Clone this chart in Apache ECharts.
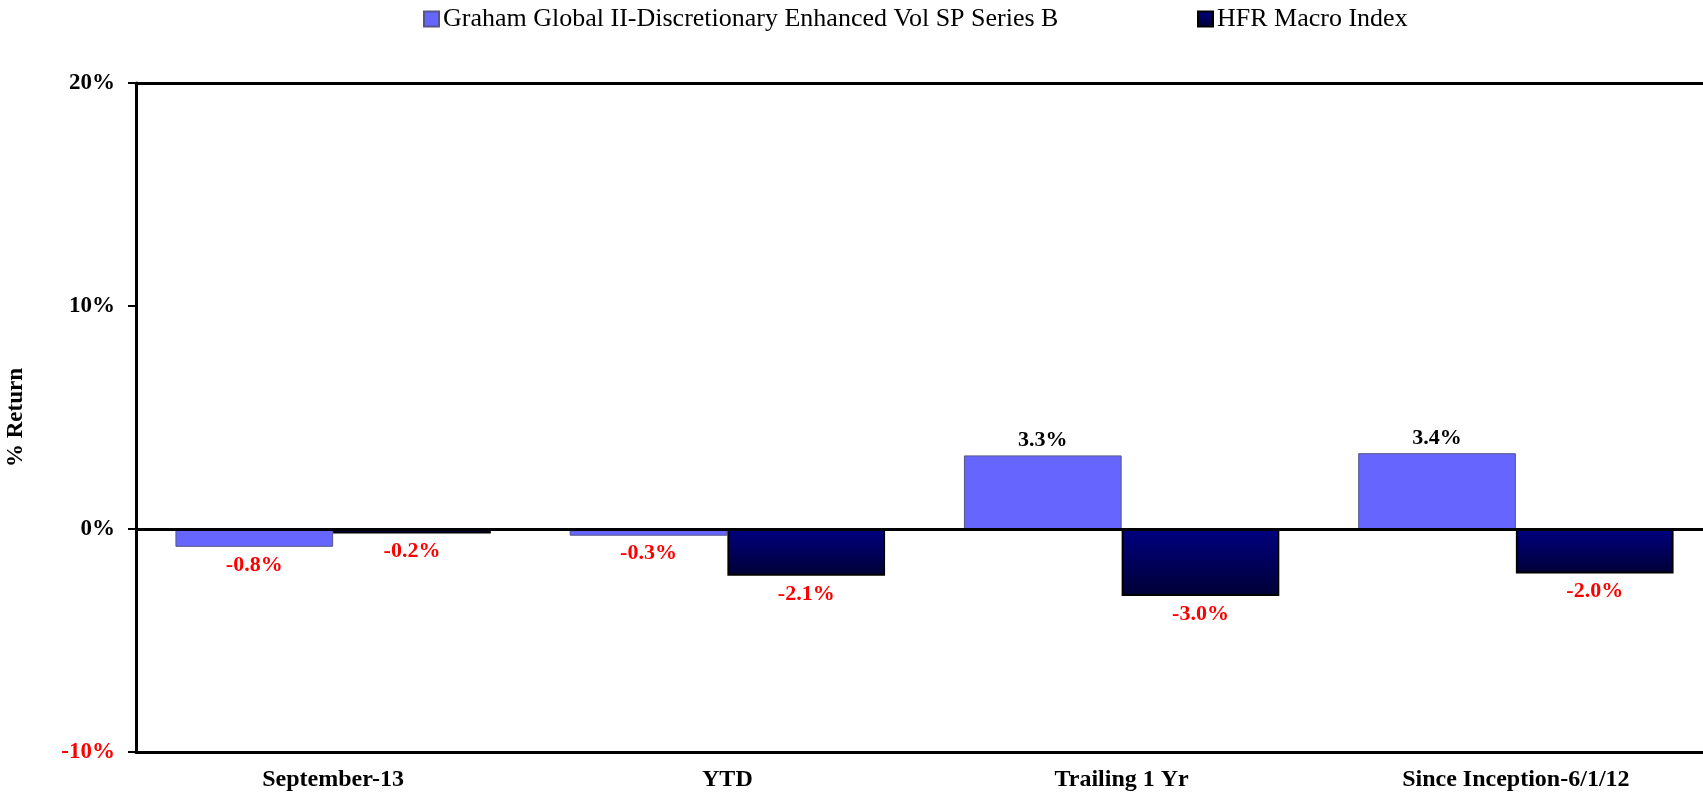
<!DOCTYPE html>
<html>
<head>
<meta charset="utf-8">
<script src="https://cdn.jsdelivr.net/npm/echarts@6/dist/echarts.min.js"></script>
<style>
html,body{margin:0;padding:0;background:#fff;}
#chart{width:1703px;height:793px;}
</style>
</head>
<body>
<div id="chart"></div>
<script>
const categories = ['September-13', 'YTD', 'Trailing 1 Yr', 'Since Inception-6/1/12'];
const seriesNames = ['Graham Global II-Discretionary Enhanced Vol SP Series B', 'HFR Macro Index'];
const grahamValues = [-0.8, -0.3, 3.3, 3.4];
const hfrValues = [-0.2, -2.1, -3.0, -2.0];
const yMin = -10, yMax = 20, yInterval = 10;

const FONT = '"Liberation Serif", "Times New Roman", serif';

function labelled(values) {
  return values.map(v => ({
    value: v,
    label: {
      position: v < 0 ? 'bottom' : 'top',
      distance: v < 0 ? 7 : 4,
      color: v < 0 ? '#ff0000' : '#000000'
    }
  }));
}

const chart = echarts.init(document.getElementById('chart'), null, {renderer: 'canvas'});
const option = {
  animation: false,
  backgroundColor: '#ffffff',
  textStyle: {fontFamily: FONT},
  legend: [
    {
      data: [seriesNames[0]],
      left: 423, top: 6, padding: 0,
      itemWidth: 15, itemHeight: 15, itemGap: 5,
      textStyle: {fontFamily: FONT, fontSize: 26, color: '#000', padding: [0, 0, 0, -1]},
      icon: 'rect'
    },
    {
      data: [seriesNames[1]],
      left: 1197, top: 6, padding: 0,
      itemWidth: 15, itemHeight: 15, itemGap: 5,
      textStyle: {fontFamily: FONT, fontSize: 26, color: '#000', padding: [0, 0, 0, -1]},
      icon: 'rect'
    }
  ],
  grid: {left: 136, right: -10, top: 83, bottom: 41, containLabel: false, outerBoundsMode: 'none'},
  xAxis: [
    {
      type: 'category',
      data: categories,
      position: 'bottom',
      axisLine: {onZero: false, lineStyle: {color: '#000', width: 3}},
      axisTick: {show: false},
      axisLabel: {fontFamily: FONT, fontWeight: 'bold', fontSize: 24, color: '#000', margin: 16}
    },
    {
      type: 'category',
      data: categories,
      position: 'top',
      axisLine: {onZero: false, lineStyle: {color: '#000', width: 3}},
      axisTick: {show: false},
      axisLabel: {show: false}
    }
  ],
  yAxis: {
    type: 'value',
    min: yMin, max: yMax, interval: yInterval,
    name: '% Return',
    nameLocation: 'middle',
    nameGap: 108,
    nameRotate: 90,
    nameTextStyle: {fontFamily: FONT, fontWeight: 'bold', fontSize: 23, color: '#000'},
    axisLine: {show: true, lineStyle: {color: '#000', width: 3}},
    axisTick: {show: true, length: 8, lineStyle: {color: '#000', width: 2}},
    splitLine: {show: false},
    axisLabel: {
      fontFamily: FONT, fontWeight: 'bold', fontSize: 23, margin: 21,
      formatter: v => v + '%',
      color: v => (Number(v) < 0 ? '#ff0000' : '#000000')
    }
  },
  series: [
    {
      name: seriesNames[0],
      type: 'bar',
      barWidth: '40%',
      barGap: '0%',
      data: labelled(grahamValues),
      itemStyle: {color: '#6666ff', borderColor: '#55558a', borderWidth: 1},
      label: {
        show: true,
        fontFamily: FONT, fontWeight: 'bold', fontSize: 22,
        formatter: p => p.value.toFixed(1) + '%'
      },
      markLine: {
        silent: true, symbol: 'none',
        label: {show: false},
        lineStyle: {color: '#000', width: 3, type: 'solid'},
        data: [{yAxis: 0}]
      }
    },
    {
      name: seriesNames[1],
      type: 'bar',
      barWidth: '40%',
      barGap: '0%',
      data: labelled(hfrValues),
      itemStyle: {
        color: new echarts.graphic.LinearGradient(0, 0, 0, 1, [
          {offset: 0, color: '#000080'},
          {offset: 1, color: '#000035'}
        ]),
        borderColor: '#000', borderWidth: 2
      },
      label: {
        show: true,
        fontFamily: FONT, fontWeight: 'bold', fontSize: 22,
        formatter: p => p.value.toFixed(1) + '%'
      }
    }
  ]
};
chart.setOption(option);
</script>
</body>
</html>
